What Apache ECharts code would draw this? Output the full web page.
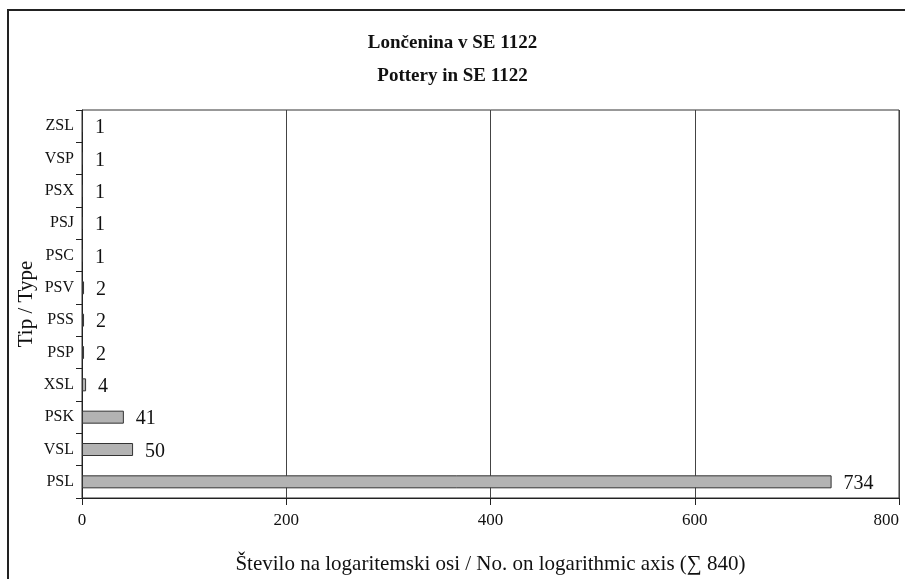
<!DOCTYPE html>
<html>
<head>
<meta charset="utf-8">
<style>
  html, body { margin: 0; padding: 0; background: #fff; }
  #chart { width: 905px; height: 579px; }
</style>
<script src="https://cdn.jsdelivr.net/npm/echarts@6/dist/echarts.min.js"></script>
</head>
<body>
<div id="chart"></div>
<script>
// Pottery types, listed bottom to top on the category axis
const types = ['PSL', 'VSL', 'PSK', 'XSL', 'PSP', 'PSS', 'PSV', 'PSC', 'PSJ', 'PSX', 'VSP', 'ZSL'];
// Sherd count per type (total 840)
const counts = [734, 50, 41, 4, 2, 2, 2, 1, 1, 1, 1, 1];
// Value-axis ticks
const xTicks = [0, 200, 400, 600, 800];

const serif = '"Liberation Serif", "DejaVu Serif", serif';
const chart = echarts.init(document.getElementById('chart'), null, { renderer: 'canvas' });

chart.setOption({
  animation: false,
  backgroundColor: '#ffffff',
  title: {
    text: 'Lončenina v SE 1122\nPottery in SE 1122',
    left: 'center',
    top: 22,
    textStyle: {
      fontFamily: serif,
      fontWeight: 'bold',
      fontSize: 19,
      lineHeight: 33,
      color: '#111'
    }
  },
  graphic: [{
    type: 'rect',
    shape: { x: 8, y: 10, width: 1000, height: 1000 },
    style: { fill: 'none', stroke: '#222', lineWidth: 2 },
    silent: true
  }],
  grid: {
    left: 82,
    right: 6,
    top: 110,
    bottom: 81,
    show: true,
    borderColor: '#333',
    borderWidth: 1,
    containLabel: false,
    outerBoundsMode: 'none'
  },
  xAxis: {
    type: 'value',
    min: xTicks[0],
    max: xTicks[xTicks.length - 1],
    interval: xTicks[1] - xTicks[0],
    name: 'Število na logaritemski osi / No. on logarithmic axis (∑ 840)',
    nameLocation: 'middle',
    nameGap: 56,
    nameMoveOverlap: false,
    nameTextStyle: { fontFamily: serif, fontSize: 21, color: '#111' },
    axisLine: { show: true, lineStyle: { color: '#222', width: 1 } },
    axisTick: { show: true, length: 7, lineStyle: { color: '#222' } },
    axisLabel: { fontFamily: serif, fontSize: 17, color: '#111', margin: 14, alignMaxLabel: 'right' },
    splitLine: { show: true, lineStyle: { color: '#444', width: 1 } }
  },
  yAxis: {
    type: 'category',
    data: types,
    name: 'Tip / Type',
    nameLocation: 'middle',
    nameGap: 45,
    nameRotate: 90,
    nameMoveOverlap: false,
    nameTextStyle: { fontFamily: serif, fontSize: 21, color: '#111' },
    axisLine: { show: true, lineStyle: { color: '#222', width: 1 } },
    axisTick: { show: true, length: 6, alignWithLabel: false, lineStyle: { color: '#222' } },
    axisLabel: { fontFamily: serif, fontSize: 16, color: '#111', margin: 8, verticalAlign: 'middle' }
  },
  series: [{
    type: 'bar',
    data: counts,
    barWidth: 13,
    itemStyle: { color: '#b3b3b3', borderColor: '#333', borderWidth: 1 },
    label: {
      show: true,
      position: 'right',
      distance: 12,
      offset: [0, 2],
      fontFamily: serif,
      fontSize: 20,
      color: '#111'
    }
  }]
});
</script>
</body>
</html>
